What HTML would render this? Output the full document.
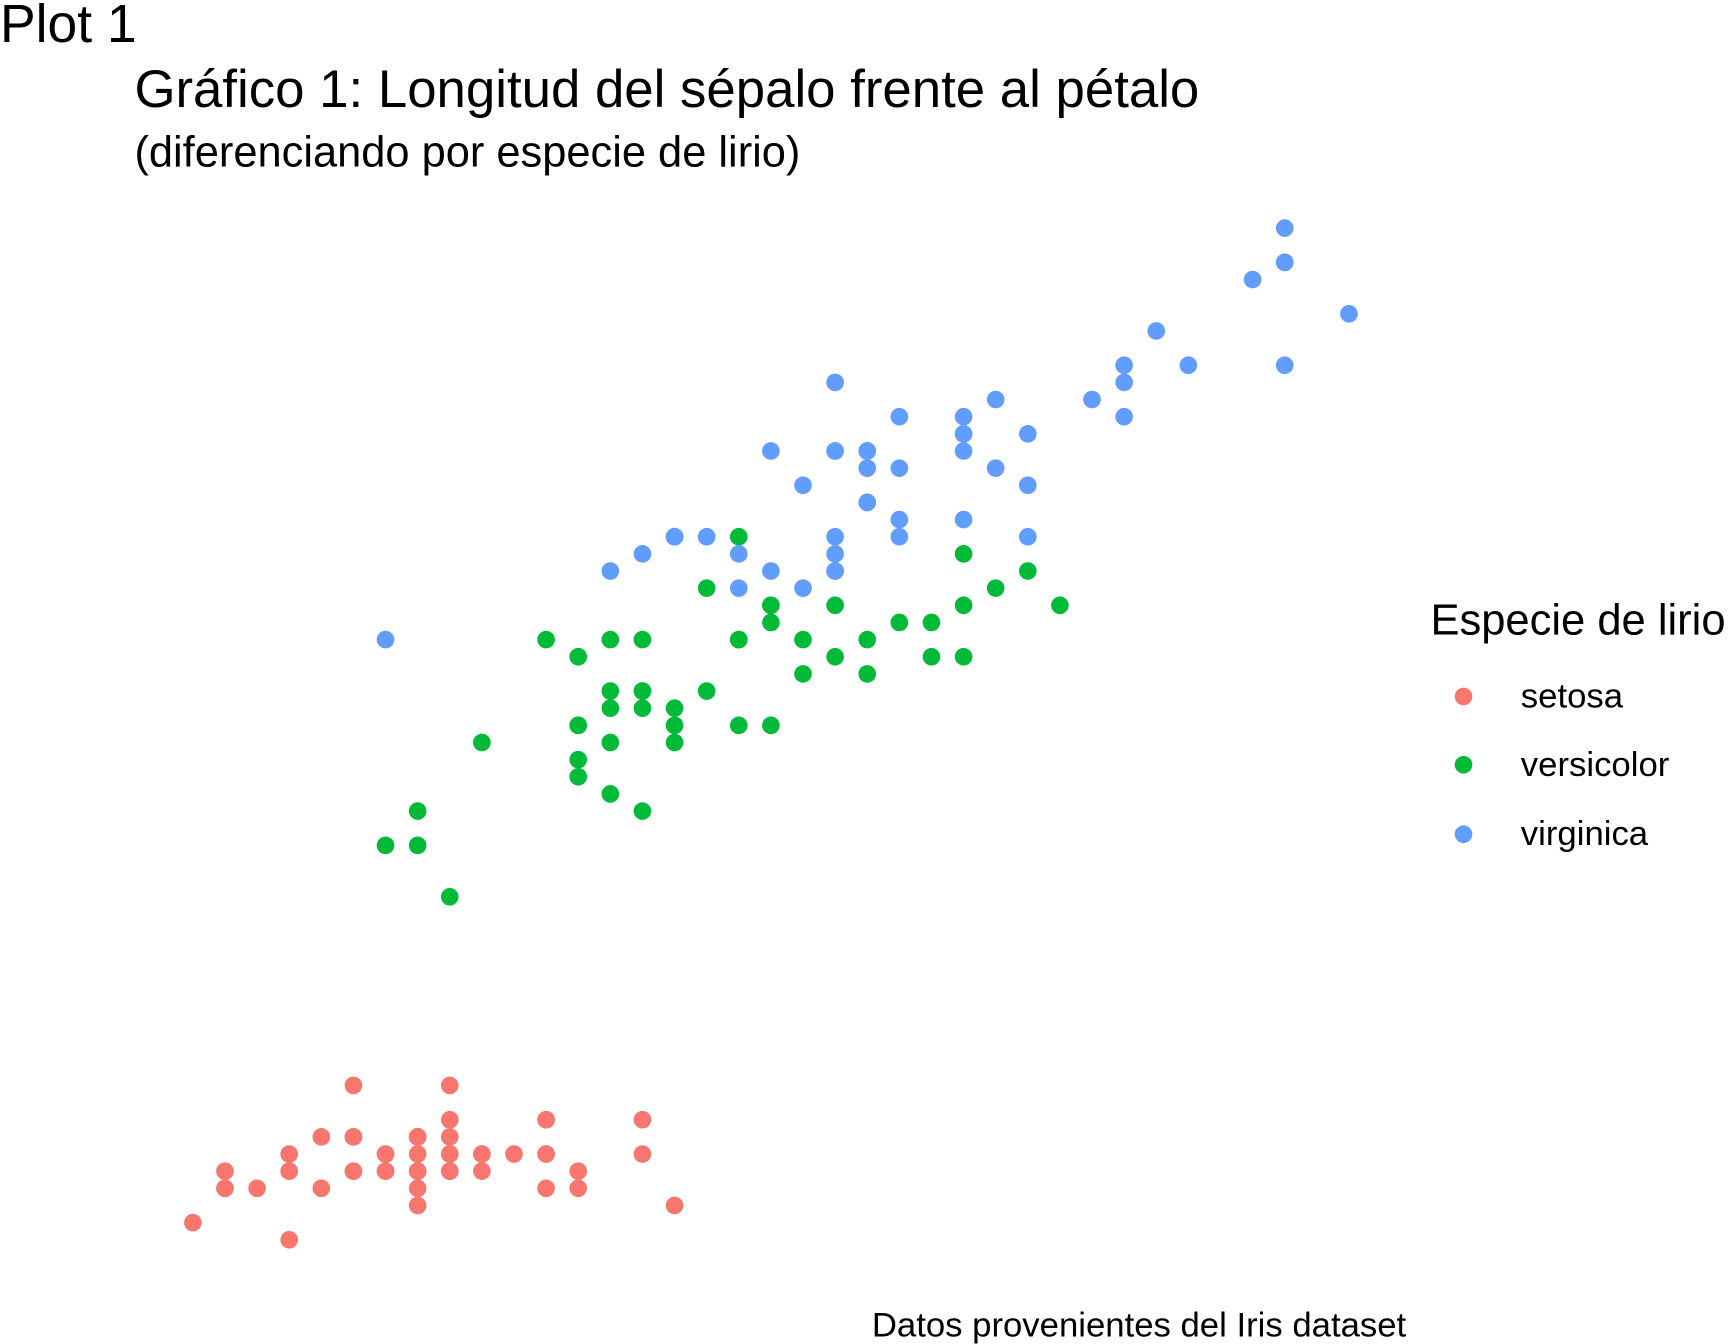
<!DOCTYPE html>
<html><head><meta charset="utf-8"><style>
html,body{margin:0;padding:0;background:#fff;}
svg{display:block;font-family:"Liberation Sans",sans-serif;}
</style></head><body>
<svg id="chart" width="1728" height="1344" viewBox="0 0 1568 1219.6" preserveAspectRatio="none">
<text x="0" y="38" font-size="48.5">Plot 1</text>
<text x="122" y="97" font-size="47.9">Gráfico 1: Longitud del sépalo frente al pétalo</text>
<text x="122" y="151" font-size="39.4">(diferenciando por especie de lirio)</text>
<text x="1276" y="1213" font-size="31.5" text-anchor="end">Datos provenientes del Iris dataset</text>
<g id="points"></g>
<g>
<text x="1298" y="576" font-size="39.5">Especie de lirio</text>
<circle cx="1328" cy="632" r="8" fill="#F8766D"/>
<text x="1380" y="642" font-size="31.5">setosa</text>
<circle cx="1328" cy="694" r="8" fill="#00BA38"/>
<text x="1380" y="704" font-size="31.5">versicolor</text>
<circle cx="1328" cy="757" r="8" fill="#619CFF"/>
<text x="1380" y="767" font-size="31.5">virginica</text>
</g>
</svg>
<script>
const setosaSepal=[5.1,4.9,4.7,4.6,5.0,5.4,4.6,5.0,4.4,4.9,5.4,4.8,4.8,4.3,5.8,5.7,5.4,5.1,5.7,5.1,5.4,5.1,4.6,5.1,4.8,5.0,5.0,5.2,5.2,4.7,4.8,5.4,5.2,5.5,4.9,5.0,5.5,4.9,4.4,5.1,5.0,4.5,4.4,5.0,5.1,4.8,5.1,4.6,5.3,5.0];
const setosaPetal=[1.4,1.4,1.3,1.5,1.4,1.7,1.4,1.5,1.4,1.5,1.5,1.6,1.4,1.1,1.2,1.5,1.3,1.4,1.7,1.5,1.7,1.5,1.0,1.7,1.9,1.6,1.6,1.5,1.4,1.6,1.6,1.5,1.5,1.4,1.5,1.2,1.3,1.4,1.3,1.5,1.3,1.3,1.3,1.6,1.9,1.4,1.6,1.4,1.5,1.4];
const versicolorSepal=[7.0,6.4,6.9,5.5,6.5,5.7,6.3,4.9,6.6,5.2,5.0,5.9,6.0,6.1,5.6,6.7,5.6,5.8,6.2,5.6,5.9,6.1,6.3,6.1,6.4,6.6,6.8,6.7,6.0,5.7,5.5,5.5,5.8,6.0,5.4,6.0,6.7,6.3,5.6,5.5,5.5,6.1,5.8,5.0,5.6,5.7,5.7,6.2,5.1,5.7];
const versicolorPetal=[4.7,4.5,4.9,4.0,4.6,4.5,4.7,3.3,4.6,3.9,3.5,4.2,4.0,4.7,3.6,4.4,4.5,4.1,4.5,3.9,4.8,4.0,4.9,4.7,4.3,4.4,4.8,5.0,4.5,3.5,3.8,3.7,3.9,5.1,4.5,4.5,4.7,4.4,4.1,4.0,4.4,4.6,4.0,3.3,4.2,4.2,4.2,4.3,3.0,4.1];
const virginicaSepal=[6.3,5.8,7.1,6.3,6.5,7.6,4.9,7.3,6.7,7.2,6.5,6.4,6.8,5.7,5.8,6.4,6.5,7.7,7.7,6.0,6.9,5.6,7.7,6.3,6.7,7.2,6.2,6.1,6.4,7.2,7.4,7.9,6.4,6.3,6.1,7.7,6.3,6.4,6.0,6.9,6.7,6.9,5.8,6.8,6.7,6.7,6.3,6.5,6.2,5.9];
const virginicaPetal=[6.0,5.1,5.9,5.6,5.8,6.6,4.5,6.3,5.8,6.1,5.1,5.3,5.5,5.0,5.1,5.3,5.5,6.7,6.9,5.0,5.7,4.9,6.7,4.9,5.7,6.0,4.8,4.9,5.6,5.8,6.1,6.4,5.6,5.1,5.6,6.1,5.6,5.5,4.8,5.4,5.6,5.1,5.1,5.9,5.7,5.2,5.0,5.2,5.4,5.1];
const speciesNames=["setosa","versicolor","virginica"];

function xScale(v){return 175+(v-4.3)*291.4;}
function yScale(v){return 1125-(v-1.0)*155.6;}
const g=document.getElementById('points');
const ns="http://www.w3.org/2000/svg";
const series=[[setosaSepal,setosaPetal,"#F8766D"],[versicolorSepal,versicolorPetal,"#00BA38"],[virginicaSepal,virginicaPetal,"#619CFF"]];
series.forEach((s,si)=>{
  s[0].forEach((x,i)=>{
    const c=document.createElementNS(ns,'circle');
    c.setAttribute('cx',xScale(x));
    c.setAttribute('cy',yScale(s[1][i]));
    c.setAttribute('r',8);
    c.setAttribute('fill',s[2]);
    
    
    g.appendChild(c);
  });
});
</script>
</body></html>
